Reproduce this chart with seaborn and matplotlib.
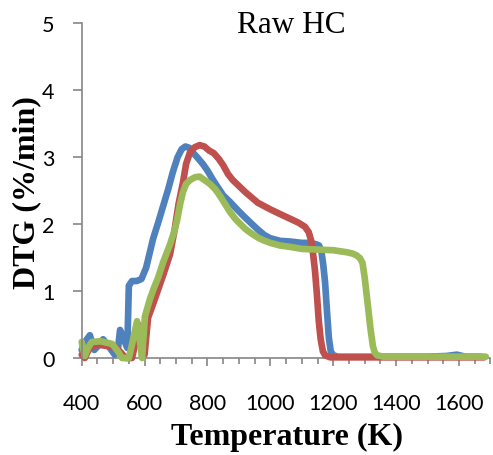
import numpy as np
import pandas as pd
import seaborn as sns
import matplotlib
matplotlib.use("Agg")
import matplotlib.pyplot as plt
from matplotlib.ticker import MultipleLocator

# DTG curves of raw hydrochar, three runs (temperature in K, DTG in %/min)
temp_blue = [400, 412, 426, 440, 452, 468, 485, 505, 515, 522, 532, 545, 550, 560, 575,
             590, 605, 627, 645, 659, 675, 690, 705, 718, 730, 742, 755, 767, 785, 800,
             815, 830, 850, 872, 894, 915, 935, 960, 980, 999, 1031, 1063, 1100, 1126,
             1145, 1155, 1162, 1168, 1174, 1180, 1186, 1192, 1200, 1215, 1300, 1400,
             1500, 1560, 1593, 1620, 1670]
dtg_blue = [0.12, 0.25, 0.34, 0.12, 0.18, 0.28, 0.18, 0.05, 0.12, 0.42, 0.30, 0.15, 1.08,
            1.15, 1.15, 1.18, 1.35, 1.78, 2.05, 2.27, 2.52, 2.78, 3.00, 3.12, 3.16, 3.14,
            3.06, 3.00, 2.90, 2.80, 2.68, 2.57, 2.43, 2.33, 2.22, 2.12, 2.03, 1.92, 1.84,
            1.79, 1.75, 1.74, 1.72, 1.72, 1.70, 1.68, 1.60, 1.40, 1.13, 0.70, 0.30, 0.10,
            0.04, 0.02, 0.02, 0.02, 0.02, 0.03, 0.05, 0.02, 0.02]

temp_red = [400, 410, 425, 450, 480, 510, 525, 540, 560, 572, 580, 590, 600, 611,
            625, 640, 660, 681, 695, 708, 722, 732, 745, 760, 775, 790, 805, 820, 835,
            850, 865, 880, 900, 920, 940, 960, 980, 1000, 1031, 1063, 1090, 1110, 1122,
            1130, 1136, 1142, 1148, 1154, 1160, 1167, 1174, 1190, 1250, 1350, 1450,
            1550, 1680]
dtg_red = [0.05, 0.0, 0.15, 0.20, 0.18, 0.15, 0.08, 0.0, 0.0, 0.25, 0.50, 0.15, 0.05,
           0.60, 0.78, 0.98, 1.25, 1.55, 1.90, 2.30, 2.62, 2.90, 3.08, 3.15, 3.18, 3.16,
           3.10, 3.06, 2.98, 2.88, 2.75, 2.66, 2.57, 2.48, 2.40, 2.32, 2.27, 2.22, 2.15,
           2.08, 2.02, 1.96, 1.88, 1.75, 1.55, 1.30, 0.95, 0.55, 0.28, 0.10, 0.04, 0.01,
           0.01, 0.01, 0.01, 0.01, 0.01]

temp_green = [400, 410, 420, 432, 460, 497, 515, 528, 550, 560, 576, 585, 592, 601,
              617, 630, 643, 659, 681, 695, 703, 713, 722, 732, 745, 760, 775, 790, 808,
              825, 840, 856, 872, 890, 905, 920, 940, 960, 977, 1000, 1031, 1063, 1100,
              1150, 1200, 1243, 1262, 1275, 1285, 1293, 1300, 1306, 1311, 1318, 1326,
              1332, 1340, 1360, 1450, 1550, 1650, 1685]
dtg_green = [0.24, 0.03, 0.15, 0.24, 0.25, 0.21, 0.10, 0.0, 0.0, 0.20, 0.55, 0.25, 0.0,
             0.62, 0.88, 1.05, 1.20, 1.43, 1.70, 1.90, 2.05, 2.30, 2.48, 2.60, 2.66,
             2.70, 2.71, 2.66, 2.60, 2.52, 2.42, 2.30, 2.18, 2.07, 2.00, 1.93, 1.86,
             1.80, 1.76, 1.72, 1.68, 1.66, 1.63, 1.62, 1.61, 1.58, 1.56, 1.53, 1.49,
             1.42, 1.20, 0.95, 0.75, 0.45, 0.18, 0.08, 0.04, 0.02, 0.02, 0.02, 0.02,
             0.02]

x_ticks = [400, 600, 800, 1000, 1200, 1400, 1600]
y_ticks = [0, 1, 2, 3, 4, 5]

series = [
    (temp_blue, dtg_blue, "#4F81BD"),
    (temp_red, dtg_red, "#C0504D"),
    (temp_green, dtg_green, "#9BBB59"),
]

sns.set_theme(style="white")
plt.rcParams["font.family"] = ["Lato", "DejaVu Sans"]

fig = plt.figure(figsize=(4.93, 4.56), dpi=100)
ax = fig.add_axes([0.1657, 0.2127, 0.8292, 0.734])

for xs, ys, col in series:
    sns.lineplot(x=xs, y=ys, color=col, linewidth=4.8, sort=False,
                 estimator=None, ax=ax, solid_joinstyle="round",
                 solid_capstyle="round", clip_on=False)

ax.set_xlim(400, 1700)
ax.set_ylim(0, 5)
ax.set_xticks(x_ticks)
ax.set_yticks(y_ticks)
ax.xaxis.set_minor_locator(MultipleLocator(50))

axis_grey = "#868686"
for side in ("top", "right"):
    ax.spines[side].set_visible(False)
for side in ("left", "bottom"):
    ax.spines[side].set_color(axis_grey)
    ax.spines[side].set_linewidth(1.2)
ax.spines["bottom"].set_zorder(0.5)

ax.tick_params(axis="x", which="major", direction="out", length=6, width=1.2,
               color=axis_grey, pad=19, labelsize=15.5, labelcolor="black",
               bottom=True)
ax.tick_params(axis="x", which="minor", direction="out", length=4, width=1.2,
               color=axis_grey, bottom=True)
ax.tick_params(axis="y", which="major", direction="out", length=6.5, width=1.2,
               color=axis_grey, pad=13, labelsize=15.5, labelcolor="black", left=True)

serif = ["Liberation Serif", "DejaVu Serif"]
ax.set_xlabel("Temperature (K)", family=serif, fontweight="bold", fontsize=23,
              color="black")
ax.set_ylabel("DTG (%/min)", family=serif, fontweight="bold", fontsize=23,
              color="black")
ax.xaxis.label.set_verticalalignment("center")
ax.yaxis.label.set_verticalalignment("center")
ax.xaxis.set_label_coords(0.503, -0.233)
ax.yaxis.set_label_coords(-0.134, 0.496)

ax.text(0.514, 0.997, "Raw HC", transform=ax.transAxes, ha="center", va="center",
        family=serif, fontsize=22.5, color="black")

ax.grid(False)
fig.savefig("out.png", dpi=100)
